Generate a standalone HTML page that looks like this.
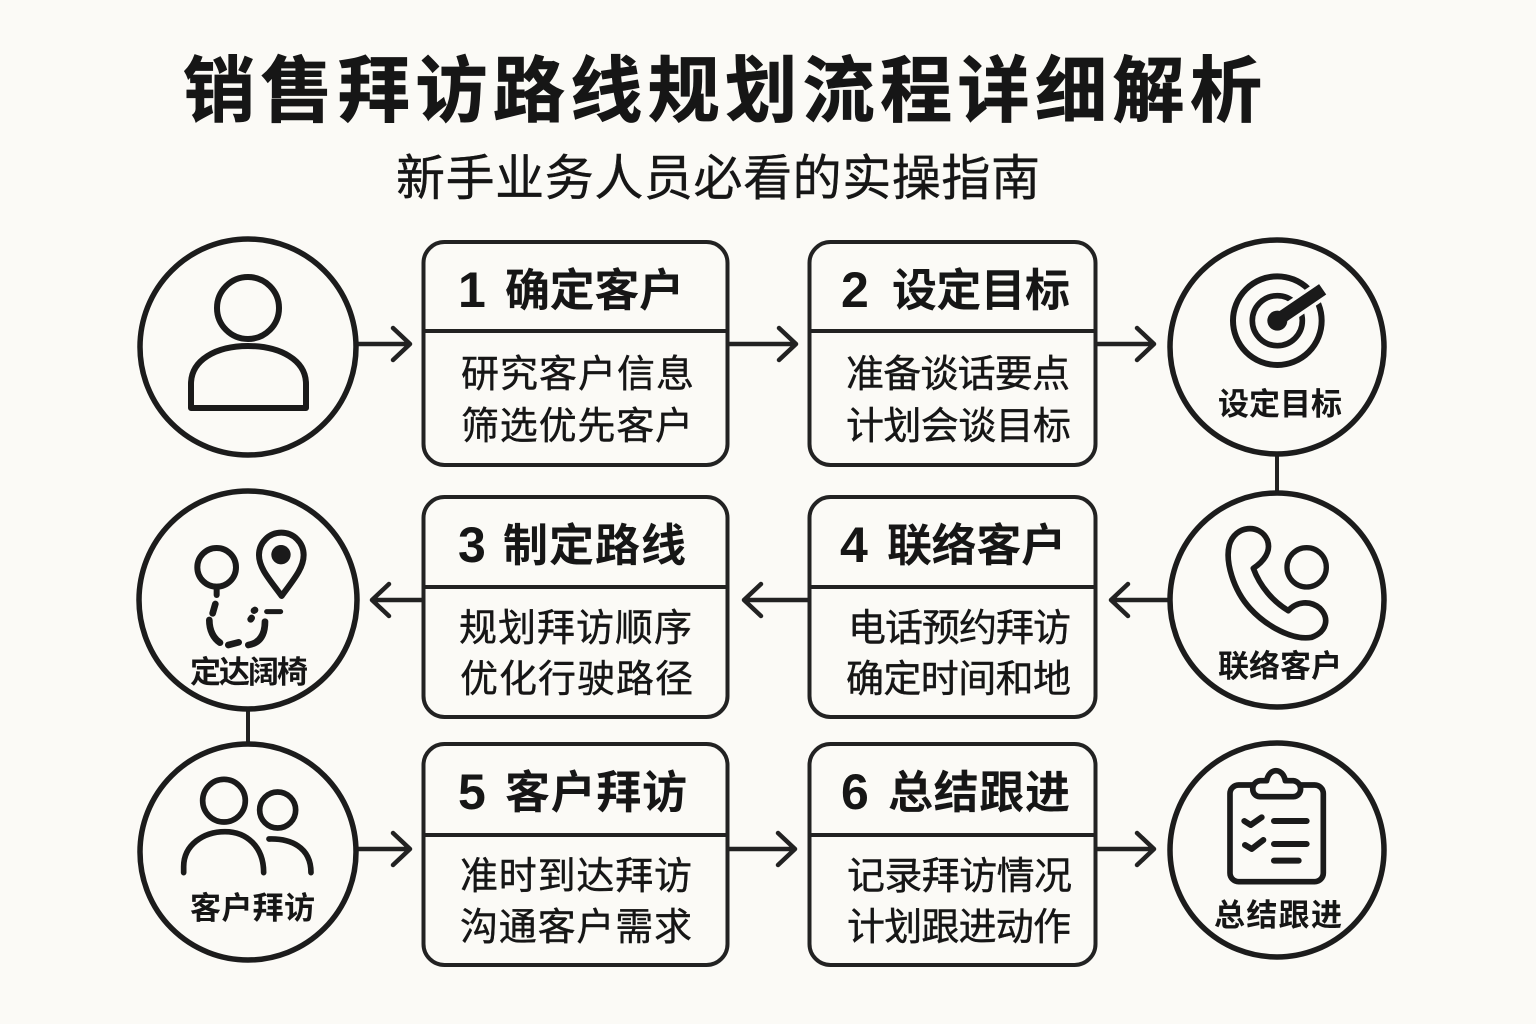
<!DOCTYPE html>
<html lang="zh"><head><meta charset="utf-8"><title>销售拜访路线规划流程详细解析</title>
<style>
html,body{margin:0;padding:0;background:#fbfaf6;width:1536px;height:1024px;overflow:hidden}
svg{display:block}
text{font-family:"Liberation Sans","Noto Sans CJK SC",sans-serif;fill:#161616}
.h{font-size:45px;font-weight:700}
.n{font-size:50px;font-weight:700}
.b{font-size:38px;font-weight:400;stroke:#161616;stroke-width:.4}
.c{font-size:31px;font-weight:700}
.box{fill:#fbfaf6;stroke:#222;stroke-width:4}
.ln{stroke:#222;stroke-width:4;fill:none}
.ar{stroke:#222;stroke-width:4.5;fill:none;stroke-linecap:round;stroke-linejoin:round}
.ci{fill:#fbfaf6;stroke:#1c1c1c;stroke-width:5.5}
.ic{fill:none;stroke:#1a1a1a;stroke-linecap:round;stroke-linejoin:round}
</style></head><body>
<svg width="1536" height="1024" viewBox="0 0 1536 1024" xmlns="http://www.w3.org/2000/svg">
<rect width="1536" height="1024" fill="#fbfaf6"/>
<text x="183" y="116" font-size="72" textLength="1079" lengthAdjust="spacing" style="font-weight:700" stroke="#161616" stroke-width=".8">销售拜访路线规划流程详细解析</text>
<text x="396" y="195" font-size="49" textLength="644" lengthAdjust="spacing" stroke="#161616" stroke-width=".4">新手业务人员必看的实操指南</text>

<!-- vertical connectors -->
<path class="ln" d="M1277 452V492M248 706V744"/>

<!-- arrows -->
<path class="ar" d="M358 344H409M393 328L410 344L393 360"/>
<path class="ar" d="M729 344H796M779 328L796 344L779 360"/>
<path class="ar" d="M1097 344H1154M1137 328L1154 344L1137 360"/>
<path class="ar" d="M1168 600H1111M1128 584L1111 600L1128 616"/>
<path class="ar" d="M808 600H744M761 584L744 600L761 616"/>
<path class="ar" d="M423 600H372M389 584L372 600L389 616"/>
<path class="ar" d="M358 849H409M393 833L410 849L393 865"/>
<path class="ar" d="M729 849H795M778 833L795 849L778 865"/>
<path class="ar" d="M1097 849H1154M1137 833L1154 849L1137 865"/>

<!-- boxes -->
<rect class="box" x="423.500" y="242" width="304" height="223" rx="21"/><path class="ln" d="M424 331H727"/>
<rect class="box" x="809.500" y="242" width="286" height="223" rx="21"/><path class="ln" d="M810 331H1095"/>
<rect class="box" x="423.500" y="497" width="304" height="220" rx="21"/><path class="ln" d="M424 587H727"/>
<rect class="box" x="809.500" y="497" width="286" height="220" rx="21"/><path class="ln" d="M810 587H1095"/>
<rect class="box" x="423.500" y="744" width="304" height="221" rx="21"/><path class="ln" d="M424 835H727"/>
<rect class="box" x="809.500" y="744" width="286" height="221" rx="21"/><path class="ln" d="M810 835H1095"/>

<!-- box text -->
<text class="n" x="458" y="307">1</text><text class="h" x="505" y="306" textLength="179">确定客户</text>
<text class="b" x="461" y="387" textLength="233">研究客户信息</text><text class="b" x="461" y="439" textLength="232">筛选优先客户</text>
<text class="n" x="841" y="307">2</text><text class="h" x="892" y="306" textLength="178">设定目标</text>
<text class="b" x="846" y="387" textLength="224">准备谈话要点</text><text class="b" x="846" y="439" textLength="225">计划会谈目标</text>
<text class="n" x="458" y="562">3</text><text class="h" x="503" y="561" textLength="183">制定路线</text>
<text class="b" x="459" y="641" textLength="233">规划拜访顺序</text><text class="b" x="460" y="692" textLength="233">优化行驶路径</text>
<text class="n" x="840" y="562">4</text><text class="h" x="887" y="561" textLength="179">联络客户</text>
<text class="b" x="848" y="641" textLength="223">电话预约拜访</text><text class="b" x="846" y="692" textLength="225">确定时间和地</text>
<text class="n" x="458" y="809">5</text><text class="h" x="505" y="808" textLength="182">客户拜访</text>
<text class="b" x="460" y="889" textLength="232">准时到达拜访</text><text class="b" x="460" y="940" textLength="232">沟通客户需求</text>
<text class="n" x="841" y="809">6</text><text class="h" x="888" y="808" textLength="182">总结跟进</text>
<text class="b" x="847" y="889" textLength="225">记录拜访情况</text><text class="b" x="847" y="940" textLength="224">计划跟进动作</text>

<!-- circles -->
<circle class="ci" cx="248" cy="347" r="108"/>
<circle class="ci" cx="1277" cy="347" r="107"/>
<circle class="ci" cx="248" cy="600" r="109"/>
<circle class="ci" cx="1277" cy="600" r="107"/>
<circle class="ci" cx="248" cy="852" r="108"/>
<circle class="ci" cx="1277" cy="850" r="107"/>

<!-- user icon -->
<circle class="ic" cx="248" cy="308" r="31" stroke-width="6"/>
<path class="ic" stroke-width="6" d="M191 408V384C191 360 216 346 248 346C280 346 306 360 306 384V408Z"/>

<!-- target icon -->
<g transform="translate(1160 230) scale(.3333)">
<circle class="ic" cx="352" cy="272" r="133" stroke-width="18"/>
<circle class="ic" cx="352" cy="272" r="75" stroke-width="17"/>
<path d="M350 272L488 178" stroke="#fbfaf6" stroke-width="58" fill="none"/>
<circle cx="352" cy="272" r="30" fill="#1a1a1a"/>
<path d="M350 272L488 178" stroke="#1a1a1a" stroke-width="38" fill="none"/>
</g>

<!-- phone icon -->
<g transform="translate(1160 490) scale(.3333)">
<path class="ic" stroke-width="17" d="M208 165C225 105 300 100 322 150C335 185 310 215 280 235C300 290 340 335 385 362C410 335 450 330 480 355C510 385 500 425 455 442C400 452 320 410 270 355C220 300 195 215 208 165Z"/>
<circle class="ic" cx="440" cy="232" r="59" stroke-width="16"/>
</g>

<!-- map icon -->
<g transform="translate(130 480) scale(.3333)">
<circle class="ic" cx="260" cy="262" r="58" stroke-width="18"/>
<path class="ic" stroke-width="18" d="M260 322V345"/>
<path class="ic" stroke-width="18" d="M455 348C420 300 387 265 387 225A67 67 0 0 1 521 225C521 265 490 300 455 348Z"/>
<circle cx="453" cy="224" r="29" fill="#1a1a1a"/>
<path class="ic" stroke-width="20" d="M256 372L248 400M238 420C238 450 250 475 270 488M295 495L326 487M355 495C385 490 405 470 405 425M372 392L375 390M362 418L365 414"/>
<path class="ic" stroke-width="15" d="M410 395H452"/>
</g>

<!-- people icon -->
<g transform="translate(130 730) scale(.3333)">
<circle class="ic" cx="282" cy="212" r="64" stroke-width="17"/>
<circle class="ic" cx="443" cy="240" r="54" stroke-width="17"/>
<path class="ic" stroke-width="17" d="M161 428V410C161 345 220 305 285 305C350 305 401 350 401 428"/>
<path class="ic" stroke-width="17" d="M417 327C480 325 543 350 543 428"/>
</g>

<!-- clipboard icon -->
<g transform="translate(1160 740) scale(.3333)">
<rect class="ic" x="210" y="135" width="280" height="290" rx="26" stroke-width="17"/>
<path stroke-width="17" stroke="#1a1a1a" fill="#fbfaf6" stroke-linejoin="round" d="M300 170C270 168 272 125 300 122H320C328 82 368 82 376 122H400C428 125 430 168 400 170Z"/>
<path class="ic" stroke-width="18" d="M253 243L272 255L305 232M255 315L275 327L310 300M342 243H440M342 312H440M342 362H416"/>
</g>

<!-- circle labels -->
<text class="c" x="1218" y="415" textLength="124">设定目标</text>
<text class="c" x="1218" y="677" textLength="124">联络客户</text>
<text class="c" x="1214" y="926" textLength="128">总结跟进</text>
<text class="c" x="190" y="919" textLength="125">客户拜访</text>
<text class="c" x="190" y="683" textLength="118">定达阔椅</text>
</svg>
</body></html>
